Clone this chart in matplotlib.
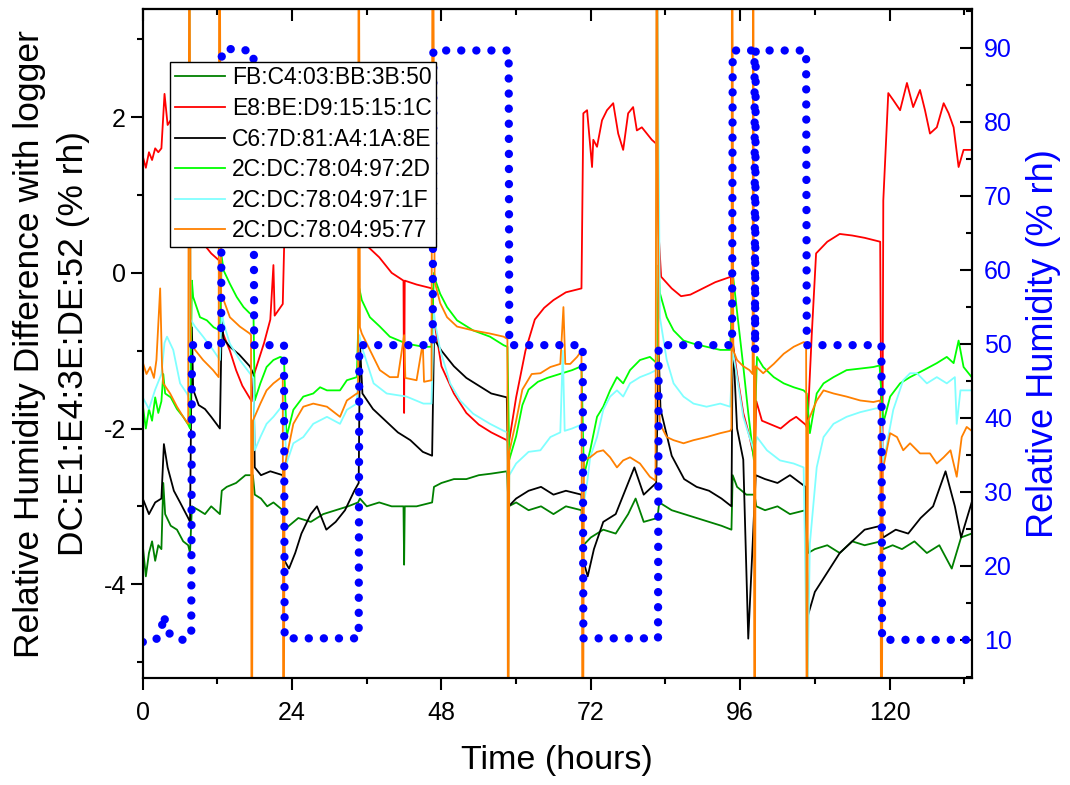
import matplotlib
matplotlib.use("Agg")
import matplotlib.pyplot as plt
from matplotlib.ticker import MultipleLocator

plt.rcParams['font.family'] = ['Liberation Sans', 'DejaVu Sans']
plt.rcParams['axes.unicode_minus'] = False

# ─────────────────────────────────────────────────────────────
# DATA  (hand, hours / % rh)
#   spikes that leave the frame are kept as off-scale values
# ─────────────────────────────────────────────────────────────
labels = ["FB:C4:03:BB:3B:50", "E8:BE:D9:15:15:1C", "C6:7D:81:A4:1A:8E",
          "2C:DC:78:04:97:2D", "2C:DC:78:04:97:1F", "2C:DC:78:04:95:77"]
colors = ["#008000", "#ff0000", "#000000", "#00ff00", "#80ffff", "#ff8000"]

# logger RH (right axis)
rh_t = [0, 2.1, 2.8, 3.2, 3.4, 3.7, 4.5, 6.8, 7.6, 7.8, 7.9, 12.6, 12.7, 15, 17.8,
        17.9, 22.7, 22.8, 34.7, 34.8, 46.6, 46.7, 58.8, 58.9, 70.7, 70.8, 82.8,
        82.9, 94.7, 94.8, 98.3, 98.4, 98.5, 106.6, 106.7, 118.7, 118.8, 133.2]
rh_v = [9.7, 9.9, 11.3, 12.2, 13.4, 12.0, 10.5, 9.9, 10.5, 11.0, 49.8, 49.8, 89.6,
        89.9, 89.4, 49.8, 49.8, 10.2, 10.2, 49.8, 49.8, 89.6, 89.6, 49.8, 49.8,
        10.2, 10.2, 49.8, 49.8, 89.6, 89.6, 49.0, 89.6, 89.6, 49.8, 49.8, 10.0, 10.0]

# FB:C4:03:BB:3B:50
dg_t = [0, 0.5, 1, 1.5, 2, 2.5, 3, 3.3, 3.6, 4.5, 5.5, 6.5, 7.3, 7.6, 7.9, 9, 10,
        11, 12.4, 12.7, 13.5, 15, 16.5, 17.7, 18.0, 19, 20, 21, 22.5, 22.8, 23.5,
        25, 27, 29, 31, 33, 34.6, 34.9, 36, 38, 40, 41.9, 42.0, 42.1, 44, 46.5,
        46.8, 48, 50, 52, 54, 56, 58.5, 58.8, 60, 62, 64, 66, 68, 70.5, 70.8, 72,
        74, 76, 78, 79.2, 80.5, 82.7, 83.0, 85, 87, 89, 91, 93, 94.6, 94.8, 95.5,
        97, 98.3, 98.6, 100, 102, 104, 106.5, 106.9, 108, 110, 112, 114, 116,
        118.6, 119.0, 120.5, 122, 124, 126, 128, 130, 131.5, 133.2]
dg_v = [-3.5, -3.9, -3.6, -3.45, -3.7, -3.5, -3.55, -2.7, -3.1, -3.25, -3.3, -3.45,
        -3.5, -3.6, -3.0, -3.05, -3.1, -3.0, -3.1, -2.8, -2.75, -2.7, -2.6, -2.6,
        -2.85, -2.9, -3.0, -2.95, -3.05, -3.3, -3.25, -3.15, -3.2, -3.1, -3.05,
        -3.0, -2.95, -2.9, -3.0, -2.95, -3.0, -3.0, -3.75, -3.0, -3.0, -2.95,
        -2.75, -2.7, -2.65, -2.65, -2.6, -2.58, -2.55, -3.0, -2.95, -3.05, -3.0,
        -3.1, -3.0, -3.05, -3.5, -3.4, -3.3, -3.35, -3.1, -2.9, -3.2, -3.15,
        -2.95, -3.05, -3.1, -3.15, -3.2, -3.25, -3.3, -2.6, -2.75, -2.85, -2.85,
        -3.0, -3.05, -3.0, -3.1, -3.05, -3.6, -3.55, -3.5, -3.6, -3.45, -3.5,
        -3.45, -3.55, -3.5, -3.55, -3.45, -3.6, -3.5, -3.8, -3.4, -3.35]

# E8:BE:D9:15:15:1C
rd_t = [0, 0.5, 1, 1.5, 2, 2.5, 3, 3.5, 4, 4.8, 6, 7.3, 7.6, 8, 9, 10, 11, 12.4,
        12.6, 13, 14, 15, 16, 17.5, 17.9, 18.5, 19.5, 20.5, 21, 21.2, 22.5, 22.8,
        23.5, 26, 30, 34.5, 34.8, 36, 38, 40, 41.9, 42.0, 42.1, 44, 46.5, 46.8,
        48, 50, 52, 54, 56, 58.5, 58.8, 60, 61.5, 63, 64.5, 66, 68, 70.5, 70.8,
        71.4, 72.2, 72.4, 73.0, 73.8, 74.6, 75.6, 76.4, 77.2, 78.0, 78.8, 79.4,
        80.2, 81.0, 81.8, 82.5, 82.9, 83.3, 85, 86.5, 88, 90, 92, 94.5, 94.8,
        95.5, 96.5, 97.5, 98.3, 98.6, 99.5, 101, 102.5, 104, 105, 106.5, 106.8,
        107.5, 108.2, 110, 112, 114, 116, 118.5, 118.8, 119.0, 119.8, 120.6,
        121.7, 122.8, 123.8, 124.9, 125.7, 126.5, 127.6, 128.7, 129.5, 130.3,
        131.1, 131.9, 133.2]
rd_v = [1.5, 1.35, 1.55, 1.45, 1.6, 1.55, 1.6, 2.3, 1.9, 2.0, 1.85, 1.8, 0.8, 0.7,
        0.5, 0.35, 0.25, 0.15, -0.7, -0.8, -1.0, -1.25, -1.45, -1.65, -1.3,
        -1.15, -0.9, -0.6, 0.1, -0.55, -0.4, 0.6, 1.2, 1.5, 1.7, 1.8, 0.5, 0.35,
        0.2, 0.0, -0.1, -1.8, -0.1, -0.15, -0.2, -0.6, -1.2, -1.55, -1.8, -1.95,
        -2.05, -2.15, -2.2, -1.6, -1.0, -0.6, -0.45, -0.35, -0.25, -0.2, 2.05,
        2.09, 1.36, 1.71, 1.62, 1.96, 2.09, 2.18, 1.79, 1.58, 2.05, 2.13, 1.83,
        1.87, 1.79, 1.71, 1.66, 0.5, -0.05, -0.2, -0.3, -0.28, -0.2, -0.12,
        -0.05, -0.9, -1.3, -1.8, -2.1, -2.4, -1.65, -1.9, -1.95, -2.0, -1.9,
        -1.85, -1.95, -2.0, -0.8, 0.25, 0.4, 0.5, 0.48, 0.45, 0.4, -4.0, 0.93,
        2.31, 2.22, 2.09, 2.44, 2.13, 2.35, 2.09, 1.79, 1.87, 2.18, 2.05, 1.87,
        1.36, 1.58, 1.58]

# C6:7D:81:A4:1A:8E
bk_t = [0, 1, 2, 3, 3.4, 4, 5, 6, 7.3, 7.6, 7.9, 8.1, 9, 10, 11, 12.4, 12.7, 13,
        14, 15.5, 17.2, 17.8, 18.0, 19, 20.5, 22.5, 22.8, 23.5, 24.5, 25.5, 27,
        28, 29.5, 31, 32.5, 34, 34.7, 34.9, 35.3, 37, 39, 41, 43, 45, 46.5, 46.8,
        48, 50, 52, 54, 56, 58.5, 58.8, 60, 62, 64, 66, 68, 70.5, 70.8, 71.5,
        72.5, 74, 76, 77.5, 79, 80.5, 82.5, 82.9, 83.2, 85, 87, 89, 91, 93, 94.6,
        94.8, 95.5, 96.5, 97.3, 98.0, 98.5, 100, 102, 104, 106.5, 106.9, 108,
        110, 112, 114, 116, 118.6, 119.0, 121, 123, 125, 127, 129, 130.5, 131.5,
        133.2]
bk_v = [-2.9, -3.1, -2.95, -2.9, -2.2, -2.5, -2.8, -2.95, -3.15, -3.2, -0.7, -1.5,
        -1.7, -1.75, -1.85, -2.0, -0.6, -0.85, -0.95, -1.05, -1.2, -1.3, -2.5,
        -2.6, -2.55, -2.6, -3.7, -3.8, -3.6, -3.35, -3.1, -3.0, -3.3, -3.2, -3.05,
        -2.8, -2.7, -0.9, -1.55, -1.75, -1.9, -2.05, -2.15, -2.3, -2.35, -0.85,
        -1.0, -1.2, -1.35, -1.45, -1.55, -1.6, -3.0, -2.9, -2.8, -2.75, -2.85,
        -2.8, -2.85, -3.7, -3.9, -3.55, -3.2, -3.1, -2.8, -2.5, -2.85, -2.7,
        -1.0, -1.75, -2.35, -2.65, -2.75, -2.8, -2.9, -3.0, -0.8, -2.0, -2.4,
        -4.7, -3.5, -2.6, -2.65, -2.7, -2.6, -2.75, -4.4, -4.1, -3.85, -3.6,
        -3.45, -3.3, -3.25, -3.4, -3.3, -3.35, -3.15, -3.0, -2.55, -3.0, -3.4,
        -2.95]

# 2C:DC:78:04:97:2D
gr_t = [0, 0.5, 1, 1.5, 2, 2.5, 3, 3.3, 3.6, 4.5, 5.5, 6.5, 7.3, 7.6, 7.9, 8.1,
        9.2, 10.3, 11.4, 12.4, 12.7, 13.0, 14.0, 15.1, 16.2, 17.2, 17.8, 18.0,
        18.9, 19.9, 21.0, 22.1, 22.7, 23.1, 24.2, 25.8, 27.4, 28.5, 29.6, 31.7,
        32.8, 34.4, 34.8, 35.2, 36.5, 38.1, 39.7, 42.4, 45.1, 46.4, 46.8, 47.0,
        47.8, 48.9, 50.5, 53.1, 55.8, 58.0, 58.6, 58.9, 60, 61, 62, 63.5, 65, 67,
        69, 70.5, 70.9, 71.9, 73.0, 74.0, 75.1, 76.2, 77.2, 78.3, 79.9, 81.5,
        82.6, 82.9, 83.1, 84.2, 85.3, 86.9, 88.5, 90.6, 92.8, 94.4, 94.8, 95.5,
        96.5, 97.3, 98.2, 98.7, 99.7, 101.4, 103.0, 104.6, 106.2, 106.7, 107.2,
        108.3, 109.4, 111.0, 113.1, 115.3, 117.4, 118.4, 119.0, 120.1, 121.7,
        123.3, 125.5, 127.6, 129.2, 130.3, 131.1, 131.9, 133.2]
gr_v = [-1.7, -2.0, -1.75, -1.9, -1.6, -1.8, -1.65, -1.3, -1.55, -1.6, -1.75,
        -1.85, -1.95, -2.0, -0.1, -0.31, -0.57, -0.61, -0.7, -0.74, 0.2, 0.03,
        -0.14, -0.31, -0.44, -0.52, -0.55, -1.64, -1.42, -1.21, -1.12, -1.08,
        -1.1, -2.11, -1.76, -1.59, -1.55, -1.47, -1.51, -1.51, -1.38, -1.34,
        -0.2, -0.35, -0.57, -0.69, -0.82, -0.91, -0.95, -0.95, 0.0, -0.09, -0.27,
        -0.44, -0.61, -0.74, -0.82, -0.93, -0.95, -2.4, -2.1, -1.7, -1.5, -1.4,
        -1.35, -1.3, -1.25, -1.2, -2.6, -2.28, -1.85, -1.72, -1.51, -1.34, -1.42,
        -1.25, -1.12, -1.08, -1.16, 0.1, -0.26, -0.57, -0.74, -0.87, -0.91,
        -0.95, -0.99, -0.99, 0.0, -0.5, -1.2, -1.8, -2.4, -1.08, -1.21, -1.34,
        -1.42, -1.47, -1.51, -1.55, -2.06, -1.55, -1.42, -1.34, -1.25, -1.23,
        -1.21, -1.19, -1.93, -1.59, -1.42, -1.34, -1.25, -1.16, -1.08, -1.16,
        -0.87, -1.21, -1.34]

# 2C:DC:78:04:97:1F
cy_t = [0, 1, 2, 3, 3.5, 3.9, 4.9, 6.0, 7.1, 7.4, 7.5, 7.7, 8.4, 9.7, 11.3, 12.4,
        12.7, 13.0, 14.0, 15.6, 17.2, 17.8, 18.0, 18.9, 19.9, 21.0, 22.3, 22.7,
        23.1, 24.2, 25.8, 27.4, 29.6, 31.7, 32.8, 34.4, 34.8, 35.2, 37.1, 39.2,
        42.4, 45.1, 46.4, 46.8, 47.0, 47.8, 49.4, 51.0, 53.1, 55.8, 58.0, 58.6,
        58.7, 58.9, 60, 62, 63.9, 65.5, 67.1, 67.5, 67.8, 69, 70.5, 70.8, 71.4,
        71.9, 73.0, 74.0, 75.1, 76.2, 77.2, 78.3, 79.9, 81.5, 82.5, 82.6, 83.1,
        84.2, 85.3, 86.9, 88.5, 90.6, 92.8, 94.4, 94.8, 95.5, 96.5, 97.5, 98.2,
        98.7, 100.3, 102.4, 104.6, 106.2, 106.8, 107.2, 108.3, 109.4, 111.0,
        113.1, 115.3, 117.9, 118.6, 119.0, 120.6, 122.2, 123.3, 124.4, 126.0,
        127.6, 129.2, 130.5, 130.8, 131.4, 133.2]
cy_v = [-1.6, -1.75, -1.5, -1.3, -0.9, -0.82, -0.99, -1.42, -1.55, -1.6, 5.0, -0.6,
        -0.69, -0.82, -0.99, -1.12, -0.5, -0.65, -0.91, -1.12, -1.29, -1.35,
        -2.28, -2.11, -1.94, -1.85, -1.72, -1.75, -2.45, -2.19, -2.11, -1.94,
        -1.85, -1.94, -1.76, -1.68, -0.8, -0.95, -1.42, -1.55, -1.59, -1.68,
        -1.68, -0.5, -0.65, -0.99, -1.42, -1.64, -1.81, -1.94, -2.03, -2.05,
        -6.0, -2.6, -2.45, -2.3, -2.28, -2.11, -2.05, -1.0, -2.03, -2.0, -1.95,
        -3.0, -2.7, -2.37, -2.11, -1.76, -1.59, -1.51, -1.59, -1.42, -1.34,
        -1.29, -1.25, 5.0, -0.57, -1.12, -1.42, -1.59, -1.68, -1.72, -1.68,
        -1.72, -1.0, -1.34, -1.85, -2.11, -2.28, -2.11, -2.28, -2.41, -2.45,
        -2.5, -5.5, -3.48, -2.5, -2.11, -1.94, -1.85, -1.79, -1.74, -1.75,
        -2.45, -1.76, -1.38, -1.29, -1.29, -1.42, -1.34, -1.42, -1.34, -1.94,
        -1.51, -1.51]

# 2C:DC:78:04:95:77
or_t = [0, 0.6, 1.2, 1.8, 2.2, 2.8, 3.1, 3.3, 4.4, 5.5, 6.5, 7.3, 7.5, 7.7, 8.4,
        9.7, 11.3, 12.2, 12.3, 12.6, 13.0, 14.0, 15.6, 17.2, 17.4, 17.5, 17.7,
        18.9, 19.9, 21.0, 22.3, 22.5, 22.6, 22.8, 23.1, 24.2, 25.8, 27.4, 29.6,
        31.7, 32.8, 34.4, 34.6, 34.7, 34.9, 35.2, 36.5, 38.1, 39.7, 41, 42, 42.2,
        44, 45, 45.2, 46.4, 46.6, 46.9, 47.0, 47.8, 48.9, 50.5, 53.1, 55.8, 58.0,
        58.6, 58.7, 58.9, 60, 61, 62.5, 63.9, 65.5, 67.1, 67.6, 67.9, 68.7, 69.8,
        70.5, 70.7, 70.9, 71.9, 73.0, 74.0, 75.1, 76.2, 77.2, 78.3, 79.9, 81.5,
        82.4, 82.6, 82.9, 83.1, 84.2, 85.3, 86.9, 88.5, 90.6, 92.8, 94.4, 94.6,
        94.7, 94.9, 95.5, 96.5, 97.5, 98.0, 98.1, 98.3, 98.5, 99.7, 101.4, 103.0,
        104.6, 106.2, 106.6, 106.7, 106.9, 107.2, 108.3, 109.4, 111.0, 113.1,
        115.3, 117.4, 118.5, 118.7, 118.9, 120.1, 121.2, 122.2, 123.3, 124.9,
        126.5, 127.6, 128.7, 129.8, 130.8, 131.6, 132.4, 133.2]
or_v = [-1.15, -1.3, -1.21, -1.35, -1.12, -0.2, -1.2, -1.42, -1.55, -1.72, -1.85,
        -1.94, 6.0, -0.9, -0.99, -1.12, -1.25, -1.34, 6.0, -0.3, -0.35, -0.57,
        -0.69, -0.78, -0.8, -8.0, -1.9, -1.68, -1.51, -1.42, -1.34, -1.35, -8.0,
        -2.5, -2.37, -1.94, -1.72, -1.68, -1.72, -1.85, -1.64, -1.55, -1.55,
        6.0, -0.7, -0.78, -0.99, -1.25, -1.34, -1.34, -0.8, -1.35, -1.38, -0.9,
        -1.4, -1.38, 6.0, -0.1, -0.14, -0.39, -0.57, -0.69, -0.74, -0.78, -0.82,
        -0.85, -8.0, -2.3, -1.9, -1.5, -1.3, -1.29, -1.21, -1.17, -0.44, -1.17,
        -1.17, -1.08, -1.0, -8.0, -2.4, -2.37, -2.3, -2.28, -2.37, -2.5, -2.41,
        -2.37, -2.45, -2.62, -2.67, 6.0, -1.5, -1.94, -2.11, -2.15, -2.19,
        -2.15, -2.11, -2.06, -2.03, -2.0, 6.0, -1.0, -1.12, -1.2, -1.25, -1.3,
        6.0, -8.0, -1.2, -1.29, -1.17, -1.04, -0.95, -0.89, -0.9, -8.0, -1.9,
        -1.85, -1.64, -1.51, -1.55, -1.59, -1.64, -1.66, -1.64, -8.0, -2.54,
        -2.06, -2.11, -2.28, -2.19, -2.32, -2.32, -2.45, -2.37, -2.28, -2.62,
        -2.11, -1.98, -2.03]

series = [(dg_t, dg_v), (rd_t, rd_v), (bk_t, bk_v),
          (gr_t, gr_v), (cy_t, cy_v), (or_t, or_v)]

x_ticks = [0, 24, 48, 72, 96, 120]

# ─────────────────────────────────────────────────────────────
# FIGURE
# ─────────────────────────────────────────────────────────────
fig = plt.figure(figsize=(10.7, 7.85), dpi=100)
ax = fig.add_axes([0.1334, 0.1359, 0.7747, 0.8526])

handles = []
for (t, v), lab, col in zip(series, labels, colors):
    h, = ax.plot(t, v, color=col, lw=1.3, label=lab)
    handles.append(h)

ax.set_xlim(0, 133.2)
ax.set_ylim(-5.21, 3.39)
ax.set_xticks(x_ticks)
ax.xaxis.set_minor_locator(MultipleLocator(12))
ax.yaxis.set_major_locator(MultipleLocator(2))
ax.yaxis.set_minor_locator(MultipleLocator(1))
ax.tick_params(which='both', direction='out', width=1.5, labelsize=18,
               right=False, top=False)
ax.tick_params(axis='x', which='both', pad=8)
ax.tick_params(which='major', length=8.5)
ax.tick_params(which='minor', length=4.5)
for s in ax.spines.values():
    s.set_linewidth(1.5)

# top axis: inward ticks, no labels
top = ax.secondary_xaxis('top')
top.set_xticks(x_ticks)
top.xaxis.set_minor_locator(MultipleLocator(12))
top.tick_params(which='both', direction='in', width=1.5, labeltop=False)
top.tick_params(which='major', length=8.5)
top.tick_params(which='minor', length=4.5)
top.spines['top'].set_linewidth(1.5)

ax.set_xlabel("Time (hours)", fontsize=24.5, labelpad=14)
ax.set_ylabel("Relative Humidity Difference with logger\nDC:E1:E4:3E:DE:52 (% rh)",
              fontsize=25.5, linespacing=1.4, labelpad=10)

# right axis: logger RH as a thick dotted line
ax2 = ax.twinx()
ax2.plot(rh_t, rh_v, color='#0000ff', lw=6, linestyle=(0, (0.01, 1.8)),
         dash_capstyle='round')
ax2.set_ylim(4.8, 95.2)
ax2.yaxis.set_major_locator(MultipleLocator(10))
ax2.yaxis.set_minor_locator(MultipleLocator(5))
ax2.tick_params(which='both', direction='in', width=1.5, labelsize=18,
                colors='black', labelcolor='#0000ff', pad=9)
ax2.tick_params(which='major', length=8.5)
ax2.tick_params(which='minor', length=4.5)
ax2.set_ylabel("Relative Humidity (% rh)", fontsize=26, color='#0000ff',
               labelpad=10)
for s in ax2.spines.values():
    s.set_linewidth(1.5)

leg = ax2.legend(handles, labels, loc='upper left', bbox_to_anchor=(0.033, 0.921),
                 fontsize=16.5, frameon=True, fancybox=False, edgecolor='black',
                 framealpha=1, borderpad=0.2, borderaxespad=0, handlelength=2.2,
                 handletextpad=0.3, labelspacing=0.33)
leg.get_frame().set_linewidth(1.0)

fig.savefig("out.png", dpi=100)
